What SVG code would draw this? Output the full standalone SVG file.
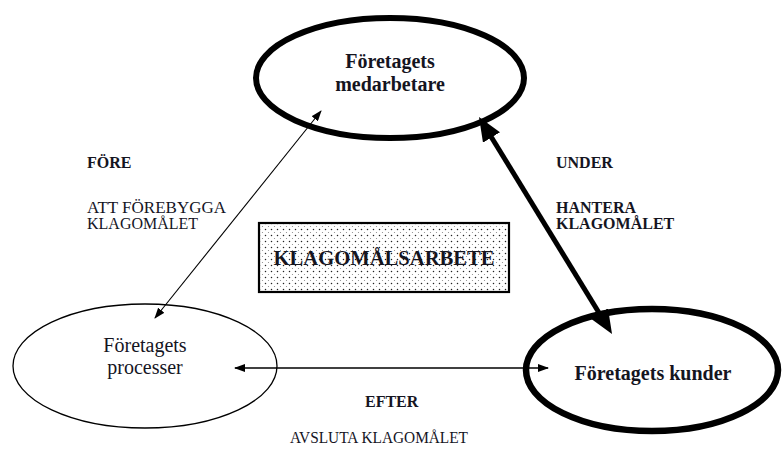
<svg xmlns="http://www.w3.org/2000/svg" width="782" height="453" viewBox="0 0 782 453">
  <defs>
    <style>
      .t { font-family: "Liberation Serif", "Times New Roman", serif; fill: #15151f; }
      .b { font-weight: bold; }
      .big { font-size: 20px; }
      .lbl { font-size: 16px; }
      .thick { fill: none; stroke: #000; stroke-width: 6; }
      .thin { fill: none; stroke: #000; stroke-width: 1.3; }
    </style>
    <pattern id="dots" width="6" height="6" patternUnits="userSpaceOnUse">
      <rect width="6" height="6" fill="#fff"/>
      <circle cx="1.5" cy="1.5" r="0.75" fill="#222"/>
      <circle cx="4.5" cy="4.5" r="0.6" fill="#888"/>
    </pattern>
    <marker id="bigArrow" viewBox="0 0 24 20" refX="14" refY="10" markerWidth="24" markerHeight="20" markerUnits="userSpaceOnUse" orient="auto-start-reverse">
      <path d="M0,0 L24,10 L0,20 z" fill="#000"/>
    </marker>
    <marker id="smallArrow" viewBox="0 0 11 8" refX="10" refY="4" markerWidth="11" markerHeight="8" markerUnits="userSpaceOnUse" orient="auto-start-reverse">
      <path d="M0,0 L11,4 L0,8 z" fill="#000"/>
    </marker>
  </defs>
  <rect width="782" height="453" fill="#fff"/>

  <g id="node-medarbetare">
    <ellipse class="thick" cx="390" cy="78" rx="134" ry="60"/>
    <text class="t b big" x="390" y="68" text-anchor="middle">Företagets</text>
    <text class="t b big" x="390" y="91" text-anchor="middle">medarbetare</text>
  </g>

  <g id="node-processer">
    <ellipse class="thin" cx="145" cy="366" rx="132" ry="62"/>
    <text class="t big" x="145" y="352" text-anchor="middle">Företagets</text>
    <text class="t big" x="145" y="374" text-anchor="middle">processer</text>
  </g>

  <g id="node-kunder">
    <ellipse class="thick" cx="652" cy="370" rx="126" ry="61" style="stroke-width:6.5"/>
    <text class="t b big" x="653" y="380" text-anchor="middle">Företagets kunder</text>
  </g>

  <g id="node-klagomalsarbete">
    <rect x="259" y="223" width="250" height="69" fill="url(#dots)" stroke="#000" stroke-width="2.2"/>
    <text class="t b big" x="384" y="265" text-anchor="middle" textLength="221" lengthAdjust="spacingAndGlyphs">KLAGOMÅLSARBETE</text>
  </g>

  <g id="connectors">
    <line x1="484.2" y1="125.5" x2="606.8" y2="325.5" stroke="#000" stroke-width="5" marker-start="url(#bigArrow)" marker-end="url(#bigArrow)"/>
    <line x1="321" y1="111" x2="155" y2="318" stroke="#000" stroke-width="1.1" marker-start="url(#smallArrow)" marker-end="url(#smallArrow)"/>
    <line x1="235" y1="368" x2="548" y2="368" stroke="#000" stroke-width="1.3" marker-start="url(#smallArrow)" marker-end="url(#smallArrow)"/>
  </g>

  <g id="labels">
    <text class="t b lbl" x="87" y="168">FÖRE</text>
    <text class="t lbl" x="87" y="213" textLength="139" lengthAdjust="spacingAndGlyphs">ATT FÖREBYGGA</text>
    <text class="t lbl" x="87" y="229">KLAGOMÅLET</text>
    <text class="t b lbl" x="556" y="168">UNDER</text>
    <text class="t b lbl" x="556" y="213">HANTERA</text>
    <text class="t b lbl" x="556" y="229">KLAGOMÅLET</text>
    <text class="t b lbl" x="365" y="407">EFTER</text>
    <text class="t lbl" x="290" y="443" textLength="178" lengthAdjust="spacingAndGlyphs">AVSLUTA KLAGOMÅLET</text>
  </g>
</svg>
